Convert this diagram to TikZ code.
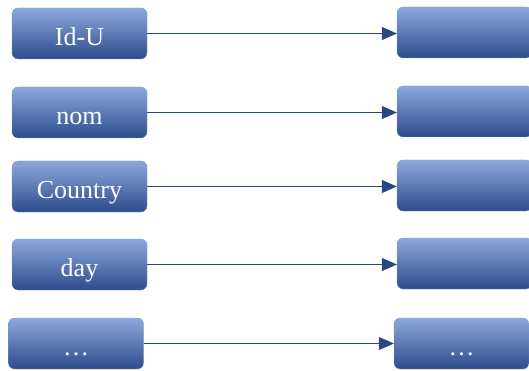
\documentclass[tikz,border=0pt]{standalone}
\usepackage{fontspec}
\setmainfont{Liberation Serif}
\usetikzlibrary{arrows.meta,positioning}

\definecolor{boxtop}{RGB}{140,168,222}
\definecolor{boxmid}{RGB}{75,116,198}
\definecolor{boxbot}{RGB}{44,76,140}
\definecolor{linkblue}{RGB}{44,70,128}

\begin{document}
\begin{tikzpicture}[
  x=1pt, y=-1pt,
  font=\fontsize{26}{30}\selectfont,
  field/.style={rounded corners=6pt, minimum width=135pt, minimum height=51pt,
    inner sep=0pt, text=white, text height=24pt, text depth=0pt,
    top color=boxtop, middle color=boxmid, bottom color=boxbot,
    draw=boxbot!60, line width=0.3pt},
  link/.style={draw=linkblue, line width=1pt, -{Triangle[length=15pt, width=13pt]}}
]
\useasboundingbox (0,0) rectangle (529,371);

% Attributes on the left
\node[field] (id)      at (79.5,33.5)  {Id-U};
\node[field] (nom)     at (79.5,112.5) {nom};
\node[field] (country) at (79.5,186.5) {Country};
\node[field] (day)     at (79.5,264.5) {day};
\node[field] (more)    at (76,343.5)   {\dots};

% Values on the right
\node[field] (vid)      at (464.5,32.5)  {};
\node[field] (vnom)     at (464.5,111.5) {};
\node[field] (vcountry) at (464.5,185.5) {};
\node[field] (vday)     at (464.5,263.5) {};
\node[field] (vmore)    at (461.5,343.5) {\dots};

% Links
\draw[link] (id.east) -- (id.east -| vid.west);
\draw[link] (nom.east) -- (nom.east -| vnom.west);
\draw[link] (country.east) -- (country.east -| vcountry.west);
\draw[link] (day.east) -- (day.east -| vday.west);
\draw[link] (more.east) -- (more.east -| vmore.west);
\end{tikzpicture}
\end{document}
